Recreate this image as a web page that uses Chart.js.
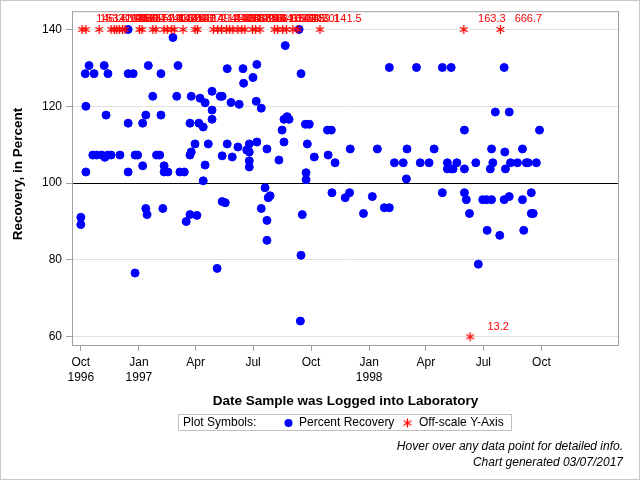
<!DOCTYPE html>
<html>
<head>
<meta charset="utf-8">
<title>Recovery, in Percent</title>
<script src="https://cdn.jsdelivr.net/npm/chart.js@4.4.0/dist/chart.umd.min.js"></script>
<style>
  html, body { margin: 0; padding: 0; background: #fff; }
  #recoveryChart { display: block; }
</style>
</head>
<body>
<canvas id="recoveryChart" width="640" height="480"></canvas>
<script>
// values
const recoveryDates = [
  '1996-10-01', '1996-10-01', '1996-10-08', '1996-10-09', '1996-10-09',
  '1996-10-14', '1996-10-20', '1996-10-22', '1996-10-26', '1996-11-03',
  '1996-11-07', '1996-11-08', '1996-11-10', '1996-11-13', '1996-11-13',
  '1996-11-18', '1996-12-02', '1996-12-15', '1996-12-15', '1996-12-15',
  '1996-12-15', '1996-12-23', '1996-12-26', '1996-12-26', '1996-12-30',
  '1997-01-07', '1997-01-07', '1997-01-12', '1997-01-12', '1997-01-14',
  '1997-01-16', '1997-01-23', '1997-01-29', '1997-02-03', '1997-02-05',
  '1997-02-05', '1997-02-08', '1997-02-10', '1997-02-10', '1997-02-16',
  '1997-02-24', '1997-03-02', '1997-03-04', '1997-03-07', '1997-03-14',
  '1997-03-17', '1997-03-23', '1997-03-23', '1997-03-23', '1997-03-25',
  '1997-03-25', '1997-03-31', '1997-04-03', '1997-04-06', '1997-04-08',
  '1997-04-13', '1997-04-13', '1997-04-16', '1997-04-16', '1997-04-21',
  '1997-04-27', '1997-04-27', '1997-04-27', '1997-05-05', '1997-05-10',
  '1997-05-13', '1997-05-13', '1997-05-13', '1997-05-18', '1997-05-21',
  '1997-05-21', '1997-05-27', '1997-05-29', '1997-06-07', '1997-06-09',
  '1997-06-15', '1997-06-16', '1997-06-21', '1997-06-25', '1997-06-25',
  '1997-06-25', '1997-06-25', '1997-07-01', '1997-07-06', '1997-07-07',
  '1997-07-07', '1997-07-14', '1997-07-14', '1997-07-20', '1997-07-23',
  '1997-07-23', '1997-07-23', '1997-07-25', '1997-07-28', '1997-08-11',
  '1997-08-16', '1997-08-19', '1997-08-19', '1997-08-21', '1997-08-24',
  '1997-08-27', '1997-09-12', '1997-09-14', '1997-09-15', '1997-09-15',
  '1997-09-17', '1997-09-22', '1997-09-23', '1997-09-23', '1997-09-25',
  '1997-09-28', '1997-10-06', '1997-10-27', '1997-10-28', '1997-11-02',
  '1997-11-03', '1997-11-08', '1997-11-24', '1997-12-01', '1997-12-02',
  '1997-12-23', '1998-01-06', '1998-01-14', '1998-01-25', '1998-02-02',
  '1998-02-02', '1998-02-10', '1998-02-24', '1998-03-01', '1998-03-02',
  '1998-03-17', '1998-03-23', '1998-04-06', '1998-04-14', '1998-04-27',
  '1998-04-27', '1998-05-05', '1998-05-05', '1998-05-11', '1998-05-11',
  '1998-05-14', '1998-05-20', '1998-06-01', '1998-06-01', '1998-06-01',
  '1998-06-04', '1998-06-09', '1998-06-19', '1998-06-23', '1998-06-30',
  '1998-07-06', '1998-07-07', '1998-07-12', '1998-07-14', '1998-07-14',
  '1998-07-16', '1998-07-20', '1998-07-27', '1998-08-03', '1998-08-03',
  '1998-08-04', '1998-08-05', '1998-08-11', '1998-08-11', '1998-08-13',
  '1998-08-24', '1998-09-01', '1998-09-01', '1998-09-03', '1998-09-07',
  '1998-09-10', '1998-09-15', '1998-09-15', '1998-09-18', '1998-09-23',
  '1998-09-28'
];
const recoveryValues = [
  91.1, 89.2, 128.5, 120.0, 102.9,
  130.6, 107.3, 128.5, 107.3, 107.3,
  130.6, 106.7, 117.7, 128.5, 107.3,
  107.3, 107.3, 140.0, 128.5, 115.6,
  102.9, 128.5, 107.3, 76.6, 107.3,
  115.6, 104.5, 117.7, 93.4, 91.8,
  130.6, 122.6, 107.3, 107.3, 128.5,
  117.7, 93.4, 104.5, 102.9, 102.9,
  137.9, 122.6, 130.6, 102.9, 102.9,
  90.0, 115.6, 107.3, 91.8, 122.6,
  108.1, 110.2, 91.6, 115.6, 122.1,
  114.6, 100.6, 120.9, 104.7, 110.2,
  123.9, 119.0, 116.6, 77.8, 122.6,
  122.6, 107.1, 95.2, 94.9, 129.8,
  110.2, 121.0, 106.8, 109.4, 120.5,
  129.8, 126.0, 108.6, 110.2, 108.1,
  105.8, 104.2, 127.5, 121.3, 130.9,
  110.7, 119.5, 93.4, 98.8, 108.9,
  90.3, 85.1, 96.2, 96.7, 106.0,
  113.8, 116.6, 110.7, 135.8, 117.3,
  116.6, 140.0, 64.1, 128.5, 81.2,
  91.8, 115.3, 102.7, 100.9, 110.2,
  115.3, 106.8, 113.8, 107.3, 113.8,
  97.5, 105.3, 96.2, 97.5, 108.9,
  92.1, 96.5, 108.9, 93.6, 130.1,
  93.6, 105.3, 105.3, 101.1, 108.9,
  130.1, 105.3, 105.3, 108.9, 130.1,
  97.5, 105.3, 103.7, 130.1, 103.7,
  103.7, 105.3, 113.8, 103.7, 97.5,
  95.7, 92.1, 105.3, 78.9, 95.7,
  95.7, 87.7, 103.7, 108.9, 95.7,
  105.3, 118.5, 86.4, 130.1, 95.7,
  108.1, 103.7, 118.5, 96.5, 105.3,
  105.3, 108.9, 95.7, 87.7, 105.3,
  105.3, 97.5, 92.1, 92.1, 105.3,
  113.8
];

// samples outside the y range (true values, shown at the edge with a label)
const offScaleDates = [
  '1996-10-03', '1996-10-09', '1996-10-30', '1996-11-18', '1996-11-23',
  '1996-11-27', '1996-12-01', '1996-12-06', '1996-12-10', '1997-01-02',
  '1997-01-06', '1997-01-23', '1997-01-28', '1997-02-10', '1997-02-15',
  '1997-02-22', '1997-02-26', '1997-03-12', '1997-03-31', '1997-04-04',
  '1997-04-29', '1997-05-06', '1997-05-12', '1997-05-20', '1997-05-25',
  '1997-05-30', '1997-06-07', '1997-06-13', '1997-06-18', '1997-06-30',
  '1997-07-05', '1997-07-12', '1997-08-04', '1997-08-09', '1997-08-17',
  '1997-08-23', '1997-09-02', '1997-09-10', '1997-10-15', '1998-05-31',
  '1998-07-28', '1998-06-10'
];
const offScaleValues = [
  146.2, 153.8, 142.9, 161.5, 148.6,
  175.0, 143.5, 150.0, 166.7, 144.4,
  157.1, 141.7, 183.3, 147.4, 152.6,
  145.5, 160.0, 142.1, 171.4, 149.2,
  144.8, 158.3, 143.1, 165.2, 151.3,
  146.9, 187.5, 142.6, 155.6, 148.1,
  163.6, 144.0, 169.2, 150.8, 141.2,
  156.3, 145.0, 159.1, 141.5, 163.3,
  666.7, 13.2
];

const xTickDates = ['1996-10-01', '1997-01-01', '1997-04-01', '1997-07-01', '1997-10-01',
                    '1998-01-01', '1998-04-01', '1998-07-01', '1998-10-01'];
const xTickLabels = [['Oct', '1996'], ['Jan', '1997'], 'Apr', 'Jul', 'Oct', ['Jan', '1998'], 'Apr', 'Jul', 'Oct'];
const xRange = ['1996-09-17', '1999-02-01'];
const yTicks = [60, 80, 100, 120, 140];
const yRange = [57.6, 144.75];
const referenceValue = 100;
const yTitle = 'Recovery, in Percent';
const xTitle = 'Date Sample was Logged into Laboratory';
const footnotes = ['Hover over any data point for detailed info.', 'Chart generated 03/07/2017'];

const FONT = '"Liberation Sans", Arial, sans-serif';
const yLow = yTicks[0];
const yHigh = yTicks[yTicks.length - 1];

function toDay(s) {
  const p = s.split('-').map(Number);
  return Date.UTC(p[0], p[1] - 1, p[2]) / 864e5;
}
function clampY(v) {
  return Math.min(yHigh, Math.max(yLow, v));
}

// asterisk marker like the original
function makeStar() {
  const c = document.createElement('canvas');
  c.width = 11;
  c.height = 11;
  const g = c.getContext('2d');
  g.strokeStyle = '#ff0000';
  g.lineWidth = 1.3;
  g.beginPath();
  [90, 30, 150].forEach(a => {
    const r = a * Math.PI / 180, dx = Math.cos(r) * 4.5, dy = Math.sin(r) * 4.5;
    g.moveTo(5.5 - dx, 5.5 - dy);
    g.lineTo(5.5 + dx, 5.5 + dy);
  });
  g.stroke();
  return c;
}
const star = makeStar();

const decorations = {
  id: 'decorations',
  beforeDatasetsDraw(chart) {
    const { ctx, chartArea: a, scales: { y } } = chart;
    const py = Math.round(y.getPixelForValue(referenceValue)) + 0.5;
    ctx.save();
    ctx.strokeStyle = '#000';
    ctx.lineWidth = 1;
    ctx.beginPath();
    ctx.moveTo(a.left, py);
    ctx.lineTo(a.right, py);
    ctx.stroke();
    ctx.restore();
  },
  afterDatasetsDraw(chart) {
    const { ctx, scales: { x, y } } = chart;
    ctx.save();
    ctx.fillStyle = '#ff0000';
    ctx.font = '11px ' + FONT;
    ctx.textAlign = 'center';
    ctx.textBaseline = 'middle';
    offScaleDates.forEach((d, i) => {
      const v = offScaleValues[i];
      const px = x.getPixelForValue(toDay(d));
      const py = y.getPixelForValue(clampY(v));
      ctx.fillText(v.toFixed(1), px + 28, py - 10);
    });
    ctx.restore();
  },
  afterDraw(chart) {
    const { ctx, chartArea: a } = chart;
    ctx.save();
    // plot frame + outer frame
    ctx.lineWidth = 1;
    ctx.strokeStyle = '#a0a0a0';
    ctx.strokeRect(a.left + 0.5, a.top + 0.5, a.right - a.left - 1, a.bottom - a.top - 1);
    ctx.strokeStyle = '#c8c8c8';
    ctx.strokeRect(0.5, 0.5, chart.width - 1, chart.height - 1);

    // y title
    ctx.fillStyle = '#000';
    ctx.font = 'bold 13.5px ' + FONT;
    ctx.textAlign = 'center';
    ctx.textBaseline = 'middle';
    ctx.save();
    ctx.translate(18, 174);
    ctx.rotate(-Math.PI / 2);
    ctx.fillText(yTitle, 0, 0);
    ctx.restore();

    // legend box
    ctx.strokeStyle = '#c0c0c0';
    ctx.strokeRect(178.5, 414.5, 333, 16);
    ctx.font = '12px ' + FONT;
    ctx.textAlign = 'left';
    ctx.fillText('Plot Symbols:', 183, 423);
    ctx.fillStyle = '#0000ff';
    ctx.beginPath();
    ctx.arc(288.5, 423, 4, 0, Math.PI * 2);
    ctx.fill();
    ctx.fillStyle = '#000';
    ctx.fillText('Percent Recovery', 299, 423);
    ctx.drawImage(star, 407.5 - 5.5, 423 - 5.5);
    ctx.fillText('Off-scale Y-Axis', 419, 423);

    // footnotes
    ctx.font = 'italic 12px ' + FONT;
    ctx.textAlign = 'right';
    ctx.fillText(footnotes[0], 623, 447);
    ctx.fillText(footnotes[1], 623, 463);
    ctx.restore();
  }
};

const ctx = document.getElementById('recoveryChart').getContext('2d');
new Chart(ctx, {
  type: 'scatter',
  data: {
    datasets: [
      {
        label: 'Off-scale Y-Axis',
        data: offScaleDates.map((d, i) => ({ x: toDay(d), y: clampY(offScaleValues[i]) })),
        pointStyle: star,
        pointRadius: 5,
      },
      {
        label: 'Percent Recovery',
        data: recoveryDates.map((d, i) => ({ x: toDay(d), y: recoveryValues[i] })),
        backgroundColor: '#0000ff',
        borderColor: '#0000ff',
        borderWidth: 1,
        pointRadius: 4,
      },
    ],
  },
  options: {
    responsive: false,
    animation: false,
    devicePixelRatio: 1,
    layout: { padding: { top: 10, right: 21, left: 0, bottom: 0 } },
    plugins: {
      legend: { display: false },
      tooltip: { enabled: true },
    },
    scales: {
      x: {
        type: 'linear',
        min: toDay(xRange[0]),
        max: toDay(xRange[1]),
        afterBuildTicks: s => { s.ticks = xTickDates.map(d => ({ value: toDay(d) })); },
        afterFit: s => { s.height = 134; },
        ticks: {
          autoSkip: false,
          maxRotation: 0,
          padding: 4.5,
          color: '#000',
          font: { family: FONT, size: 12, lineHeight: 1.25 },
          callback: (v, i) => xTickLabels[i],
        },
        grid: { drawOnChartArea: false, tickLength: 5, tickColor: '#a0a0a0' },
        border: { display: false },
        title: {
          display: true,
          text: xTitle,
          color: '#000',
          font: { family: FONT, size: 13.5, weight: 'bold' },
          padding: { top: 0, bottom: 71 },
        },
      },
      y: {
        min: yRange[0],
        max: yRange[1],
        afterBuildTicks: s => { s.ticks = yTicks.map(v => ({ value: v })); },
        afterFit: s => { s.width = 72; },
        ticks: {
          padding: 4,
          color: '#000',
          font: { family: FONT, size: 12 },
        },
        grid: { color: '#e0e0e0', tickLength: 6, tickColor: '#a0a0a0' },
        border: { display: false },
        title: { display: false },
      },
    },
  },
  plugins: [decorations],
});
</script>
</body>
</html>
